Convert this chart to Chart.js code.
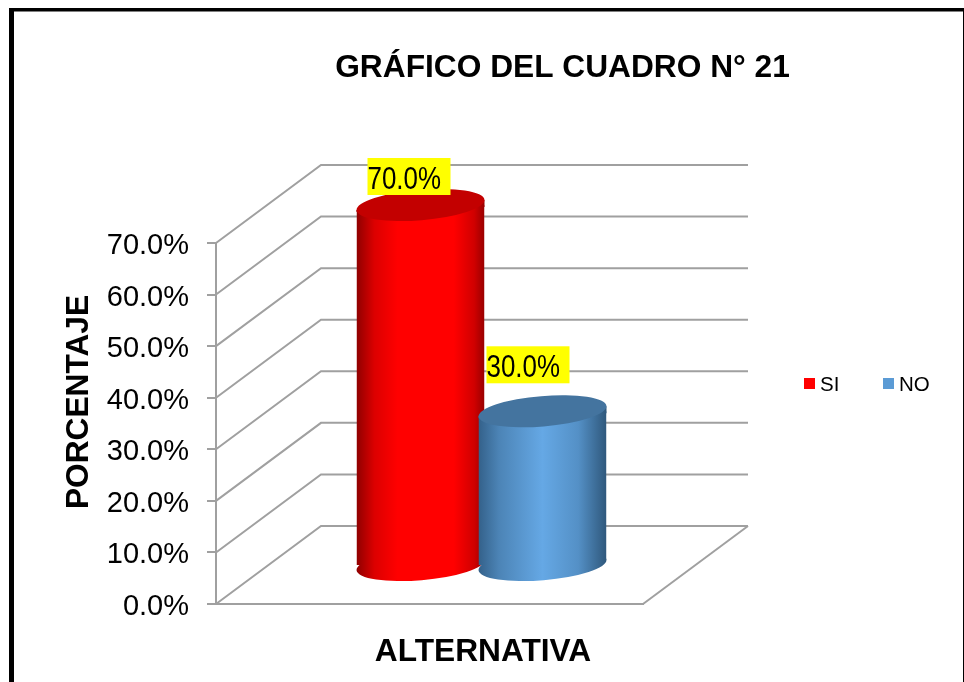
<!DOCTYPE html>
<html>
<head>
<meta charset="utf-8">
<script src="https://cdn.jsdelivr.net/npm/chart.js@4/dist/chart.umd.js"></script>
<style>html,body{margin:0;padding:0;background:#fff}canvas{display:block}</style>
</head>
<body>
<canvas id="c" width="964" height="682"></canvas>
<script>
const chartTitle = 'GRÁFICO DEL CUADRO N° 21';
const yTitle = 'PORCENTAJE';
const xTitle = 'ALTERNATIVA';
const categories = [''];
const seriesNames = ['SI', 'NO'];
const siValues = [70];
const noValues = [30];
const seriesColors = ['#ff0000', '#5b9bd5'];
const FONT = '"Liberation Sans", Arial, sans-serif';
const GRID = '#a0a0a0';

const depth = {x: 105, y: -78};
const barDepth = {x: 52, y: -38};
const capRy = 15.2, capTilt = -4.73 * Math.PI / 180, capSlant = 5;
const capColors = ['#c30000', '#44749f'];
const stops = [
  [[0, '#8f0000'], [0.14, '#dc0000'], [0.32, '#ff0000'], [0.76, '#ff0000'], [0.92, '#d00000'], [1, '#990000']],
  [[0, '#34618a'], [0.16, '#4c84b6'], [0.5, '#65a8e5'], [0.78, '#5490c6'], [1, '#2f587c']]
];
const labelBoxes = [{left: -53, top: -47}, {left: -56, top: -65}];

function cylGradient(ctx, el, i) {
  const g = ctx.createLinearGradient(el.x - el.width / 2, 0, el.x + el.width / 2, 0);
  stops[i].forEach(s => g.addColorStop(s[0], s[1]));
  return g;
}

function drawWalls(chart) {
  const {ctx, scales: {y}, chartArea: a} = chart;
  ctx.save();
  ctx.strokeStyle = GRID;
  ctx.lineWidth = 2;
  y.ticks.forEach(t => {
    const py = y.getPixelForValue(t.value);
    ctx.beginPath();
    ctx.moveTo(a.left, py);
    ctx.lineTo(a.left + depth.x, py + depth.y);
    ctx.lineTo(a.right + depth.x, py + depth.y);
    ctx.stroke();
  });
  ctx.beginPath();
  ctx.moveTo(a.right, a.bottom);
  ctx.lineTo(a.right + depth.x, a.bottom + depth.y);
  ctx.stroke();
  ctx.restore();
}

function drawCylinder(chart, i) {
  const {ctx} = chart;
  const meta = chart.getDatasetMeta(i);
  const el = meta.data[0];
  const w = el.width, x = el.x, top = el.y, base = el.base;
  const rx = w / 2 * 1.003;
  ctx.save();
  ctx.translate(barDepth.x, barDepth.y);
  const grad = cylGradient(ctx, el, i);
  // lower rim
  ctx.fillStyle = grad;
  ctx.beginPath();
  ctx.ellipse(x, base, rx, capRy, capTilt, 0, Math.PI * 2);
  ctx.fill();
  // wedge under the tilted upper rim
  ctx.beginPath();
  ctx.moveTo(x - w / 2, top + capSlant);
  ctx.lineTo(x + w / 2, top - capSlant);
  ctx.lineTo(x + w / 2, top + 2);
  ctx.lineTo(x - w / 2, top + capSlant + 2);
  ctx.closePath();
  ctx.fill();
  // body, drawn by the library, trimmed to the tilted rims
  ctx.save();
  ctx.beginPath();
  ctx.moveTo(x - w / 2, top + capSlant);
  ctx.lineTo(x + w / 2, top - capSlant);
  ctx.lineTo(x + w / 2, base - capSlant);
  ctx.lineTo(x - w / 2, base + capSlant);
  ctx.closePath();
  ctx.clip();
  meta.controller.draw();
  ctx.restore();
  // upper rim
  ctx.fillStyle = capColors[i];
  ctx.beginPath();
  ctx.ellipse(x, top, rx, capRy, capTilt, 0, Math.PI * 2);
  ctx.fill();
  ctx.restore();
}

function drawValueLabel(chart, i) {
  const {ctx} = chart;
  const el = chart.getDatasetMeta(i).data[0];
  const value = chart.data.datasets[i].data[0];
  const left = el.x + barDepth.x + labelBoxes[i].left;
  const top = el.y + barDepth.y + labelBoxes[i].top;
  ctx.save();
  ctx.fillStyle = '#ffff00';
  ctx.fillRect(left, top, 83, 37);
  ctx.translate(left, top + 31);
  ctx.scale(0.81, 1);
  ctx.fillStyle = '#000';
  ctx.font = '32px ' + FONT;
  ctx.textAlign = 'left';
  ctx.textBaseline = 'alphabetic';
  ctx.fillText(value.toFixed(1) + '%', 0, 0);
  ctx.restore();
}

const scene = {
  id: 'scene',
  beforeDraw(chart) {
    const {ctx, width} = chart;
    ctx.save();
    ctx.fillStyle = '#000';
    ctx.fillRect(9, 8, width - 9, 3.5);
    ctx.fillRect(9, 8, 5, chart.height - 8);
    ctx.fillRect(width - 1, 8, 1, chart.height - 8);
    ctx.restore();
  },
  beforeDatasetsDraw(chart) {
    drawWalls(chart);
    drawCylinder(chart, 0);
    drawCylinder(chart, 1);
    return false;
  },
  afterDraw(chart) {
    const {ctx} = chart;
    drawValueLabel(chart, 0);
    drawValueLabel(chart, 1);
    ctx.save();
    ctx.fillStyle = '#000';
    ctx.textBaseline = 'alphabetic';
    ctx.textAlign = 'center';
    ctx.font = 'bold 31.7px ' + FONT;
    ctx.fillText(chartTitle, 562.5, 77);
    ctx.fillText(xTitle, 483, 661);
    ctx.save();
    ctx.translate(88, 402);
    ctx.rotate(-Math.PI / 2);
    ctx.fillText(yTitle, 0, 0);
    ctx.restore();
    // legend
    const lx = [804, 883], tx = [820, 899];
    ctx.textAlign = 'left';
    ctx.font = '20.5px ' + FONT;
    seriesNames.forEach((n, i) => {
      ctx.fillStyle = seriesColors[i];
      ctx.fillRect(lx[i], 378, 11, 11);
      ctx.fillStyle = '#000';
      ctx.fillText(n, tx[i], 391);
    });
    ctx.restore();
  }
};

const chart = new Chart(document.getElementById('c'), {
  type: 'bar',
  data: {
    labels: categories,
    datasets: [
      {label: seriesNames[0], data: siValues, backgroundColor: seriesColors[0]},
      {label: seriesNames[1], data: noValues, backgroundColor: seriesColors[1]}
    ]
  },
  options: {
    responsive: false,
    animation: false,
    events: [],
    layout: {autoPadding: false, padding: {left: 0, right: 321, top: 243, bottom: 0}},
    datasets: {bar: {categoryPercentage: 0.5714, barPercentage: 1.049, borderWidth: 0}},
    plugins: {legend: {display: false}, title: {display: false}, tooltip: {enabled: false}},
    scales: {
      x: {
        afterFit(s) { s.height = 78; },
        ticks: {display: false},
        grid: {display: false},
        border: {display: true, color: GRID, width: 2}
      },
      y: {
        min: 0,
        max: 70,
        afterFit(s) { s.width = 216; },
        ticks: {
          stepSize: 10,
          padding: 18,
          labelOffset: 3,
          color: '#000',
          font: {size: 29, family: FONT},
          callback: v => v.toFixed(1) + '%'
        },
        grid: {drawOnChartArea: false, drawTicks: true, tickLength: 9, color: GRID, lineWidth: 2},
        border: {display: true, color: GRID, width: 2}
      }
    }
  },
  plugins: [scene]
});

chart.data.datasets.forEach((ds, i) => {
  ds.backgroundColor = cylGradient(chart.ctx, chart.getDatasetMeta(i).data[0], i);
});
chart.update();
</script>
</body>
</html>
